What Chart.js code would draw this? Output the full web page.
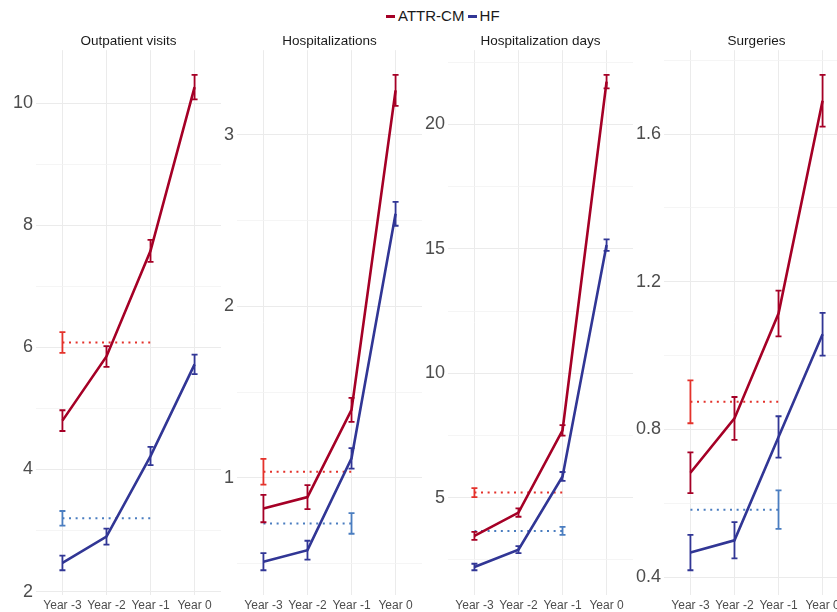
<!DOCTYPE html>
<html>
<head>
<meta charset="utf-8">
<script src="https://cdn.jsdelivr.net/npm/chart.js@4.4.1/dist/chart.umd.min.js"></script>
<style>
  html, body { margin: 0; padding: 0; background: #fff; }
  body { width: 837px; height: 612px; position: relative; overflow: hidden; font-family: "Liberation Sans", Arial, sans-serif; }
  .panel { position: absolute; top: 0; }
  #legend { position: absolute; top: 7px; left: 386px; font-size: 15px; color: #1a1a1a; white-space: nowrap; line-height: 18px; }
  #legend .key { display: inline-block; width: 9px; height: 3px; vertical-align: middle; margin-right: 3px; position: relative; top: -1px; }
</style>
</head>
<body>
<div id="legend"><span class="key" style="background:#A50026"></span>ATTR-CM <span class="key" style="background:#313695;margin-left:-1px"></span>HF</div>
<canvas id="c0" class="panel" width="221" height="612" style="left:0px"></canvas>
<canvas id="c1" class="panel" width="221" height="612" style="left:201px"></canvas>
<canvas id="c2" class="panel" width="221" height="612" style="left:412px"></canvas>
<canvas id="c3" class="panel" width="221" height="612" style="left:628px"></canvas>
<script>
// categories
const years = ['Year -3', 'Year -2', 'Year -1', 'Year 0'];
const yearPos = [-3, -2, -1, 0];

// Outpatient visits
const outAttr = [4.80, 5.85, 7.58, 10.26];
const outAttrErr = [0.17, 0.17, 0.18, 0.20];
const outHf = [2.47, 2.90, 4.22, 5.72];
const outHfErr = [0.12, 0.13, 0.15, 0.16];
const outRefAttr = 6.08, outRefAttrErr = 0.17, outRefAttrAt = 'Year -3';
const outRefHf = 3.20, outRefHfErr = 0.12, outRefHfAt = 'Year -3';
const outTicks = [2, 4, 6, 8, 10];

// Hospitalizations
const hospAttr = [0.82, 0.887, 1.396, 3.26];
const hospAttrErr = [0.08, 0.07, 0.07, 0.09];
const hospHf = [0.51, 0.577, 1.113, 2.54];
const hospHfErr = [0.05, 0.055, 0.06, 0.07];
const hospRefAttr = 1.035, hospRefAttrErr = 0.075, hospRefAttrAt = 'Year -3';
const hospRefHf = 0.733, hospRefHfErr = 0.06, hospRefHfAt = 'Year -1';
const hospTicks = [1, 2, 3];

// Hospitalization days
const daysAttr = [3.46, 4.40, 7.70, 21.72];
const daysAttrErr = [0.16, 0.17, 0.21, 0.27];
const daysHf = [2.21, 2.91, 5.85, 15.15];
const daysHfErr = [0.13, 0.14, 0.18, 0.23];
const daysRefAttr = 5.2, daysRefAttrErr = 0.18, daysRefAttrAt = 'Year -3';
const daysRefHf = 3.66, daysRefHfErr = 0.16, daysRefHfAt = 'Year -1';
const daysTicks = [5, 10, 15, 20];

// Surgeries
const surgAttr = [0.683, 0.83, 1.114, 1.69];
const surgAttrErr = [0.055, 0.058, 0.062, 0.07];
const surgHf = [0.467, 0.50, 0.78, 1.058];
const surgHfErr = [0.048, 0.049, 0.056, 0.058];
const surgRefAttr = 0.875, surgRefAttrErr = 0.058, surgRefAttrAt = 'Year -3';
const surgRefHf = 0.583, surgRefHfErr = 0.052, surgRefHfAt = 'Year -1';
const surgTicks = [0.4, 0.8, 1.2, 1.6];

const panels = [
  { title: 'Outpatient visits', attr: outAttr, attrErr: outAttrErr, hf: outHf, hfErr: outHfErr,
    refAttr: [outRefAttr, outRefAttrErr, outRefAttrAt], refHf: [outRefHf, outRefHfErr, outRefHfAt], ticks: outTicks },
  { title: 'Hospitalizations', attr: hospAttr, attrErr: hospAttrErr, hf: hospHf, hfErr: hospHfErr,
    refAttr: [hospRefAttr, hospRefAttrErr, hospRefAttrAt], refHf: [hospRefHf, hospRefHfErr, hospRefHfAt], ticks: hospTicks },
  { title: 'Hospitalization days', attr: daysAttr, attrErr: daysAttrErr, hf: daysHf, hfErr: daysHfErr,
    refAttr: [daysRefAttr, daysRefAttrErr, daysRefAttrAt], refHf: [daysRefHf, daysRefHfErr, daysRefHfAt], ticks: daysTicks },
  { title: 'Surgeries', attr: surgAttr, attrErr: surgAttrErr, hf: surgHf, hfErr: surgHfErr,
    refAttr: [surgRefAttr, surgRefAttrErr, surgRefAttrAt], refHf: [surgRefHf, surgRefHfErr, surgRefHfAt], ticks: surgTicks },
];

const RED = '#A50026', BLUE = '#313695', RED_REF = '#E4322B', BLUE_REF = '#4A7DC0';

// draws the error bars stored on each dataset
const errorBars = {
  id: 'errorBars',
  afterDatasetsDraw(chart) {
    const { ctx, scales: { x, y } } = chart;
    ctx.save();
    chart.data.datasets.forEach((ds) => {
      if (!ds.errors) return;
      ctx.strokeStyle = ds.errColor || ds.borderColor;
      ctx.lineWidth = 1.8;
      ctx.setLineDash([]);
      ds.data.forEach((pt, i) => {
        const e = ds.errors[i];
        if (e == null) return;
        const px = x.getPixelForValue(pt.x);
        const top = y.getPixelForValue(pt.y + e);
        const bot = y.getPixelForValue(pt.y - e);
        ctx.beginPath();
        ctx.moveTo(px, top); ctx.lineTo(px, bot);
        ctx.moveTo(px - 3, top); ctx.lineTo(px + 3, top);
        ctx.moveTo(px - 3, bot); ctx.lineTo(px + 3, bot);
        ctx.stroke();
      });
    });
    ctx.restore();
  }
};

function refDataset(ref, color) {
  const [v, e, at] = ref;
  const pos = yearPos[years.indexOf(at)];
  return {
    data: [{ x: -3, y: v }, { x: -1, y: v }],
    errors: [pos === -3 ? e : null, pos === -1 ? e : null],
    borderColor: color,
    borderWidth: 2,
    borderDash: [2, 4.6],
    pointRadius: 0,
    order: 5,
  };
}

panels.forEach((p, k) => {
  const lows = [], highs = [];
  p.attr.forEach((v, i) => { lows.push(v - p.attrErr[i]); highs.push(v + p.attrErr[i]); });
  p.hf.forEach((v, i) => { lows.push(v - p.hfErr[i]); highs.push(v + p.hfErr[i]); });
  [p.refAttr, p.refHf].forEach(r => { lows.push(r[0] - r[1]); highs.push(r[0] + r[1]); });
  const lo = Math.min(...lows), hi = Math.max(...highs);
  const pad = (hi - lo) * 0.05;
  const yMin = lo - pad, yMax = hi + pad;
  const step = p.ticks[1] - p.ticks[0];
  const all = [];
  for (let v = p.ticks[0] - step / 2; v <= p.ticks[p.ticks.length - 1] + step; v += step / 2) {
    const r = Math.round(v * 1000) / 1000;
    if (r >= yMin && r <= yMax) all.push(r);
  }
  const isMajor = v => p.ticks.some(t => Math.abs(t - v) < 1e-6);

  new Chart(document.getElementById('c' + k), {
    type: 'line',
    plugins: [errorBars],
    data: {
      datasets: [
        { data: yearPos.map((x, i) => ({ x, y: p.attr[i] })), errors: p.attrErr,
          borderColor: RED, borderWidth: 2.6, pointRadius: 0, tension: 0, order: 1 },
        { data: yearPos.map((x, i) => ({ x, y: p.hf[i] })), errors: p.hfErr,
          borderColor: BLUE, borderWidth: 2.6, pointRadius: 0, tension: 0, order: 2 },
        refDataset(p.refAttr, RED_REF),
        refDataset(p.refHf, BLUE_REF),
      ],
    },
    options: {
      responsive: false,
      animation: false,
      devicePixelRatio: 1,
      layout: { padding: { top: 0, bottom: 0, left: 0, right: 0 } },
      plugins: {
        legend: { display: false },
        tooltip: { enabled: false },
        title: {
          display: true,
          text: p.title,
          fullSize: false,
          color: '#1a1a1a',
          font: { family: 'Liberation Sans', size: 13.5, weight: 'normal', lineHeight: 1.2 },
          padding: { top: 33, bottom: 1 },
        },
      },
      scales: {
        x: {
          type: 'linear',
          min: -3.6,
          max: 0.6,
          afterBuildTicks: axis => { axis.ticks = yearPos.map(v => ({ value: v })); },
          afterFit: axis => { axis.height = 17; },
          border: { display: false },
          grid: { color: '#EBEBEB', lineWidth: 1, drawTicks: false },
          ticks: {
            padding: 3,
            color: '#4D4D4D',
            font: { family: 'Liberation Sans', size: 12 },
            maxRotation: 0,
            callback: v => years[yearPos.indexOf(v)],
          },
        },
        y: {
          type: 'linear',
          min: yMin,
          max: yMax,
          afterBuildTicks: axis => { axis.ticks = all.map(v => ({ value: v })); },
          afterFit: axis => { axis.width = 36; },
          border: { display: false },
          grid: {
            drawTicks: false,
            color: c => isMajor(c.tick.value) ? '#EBEBEB' : '#F3F3F3',
            lineWidth: c => isMajor(c.tick.value) ? 1 : 0.8,
          },
          ticks: {
            padding: 3,
            color: '#4D4D4D',
            font: { family: 'Liberation Sans', size: 18 },
            callback: v => isMajor(v) ? String(v) : '',
          },
        },
      },
    },
  });
});
</script>
</body>
</html>
